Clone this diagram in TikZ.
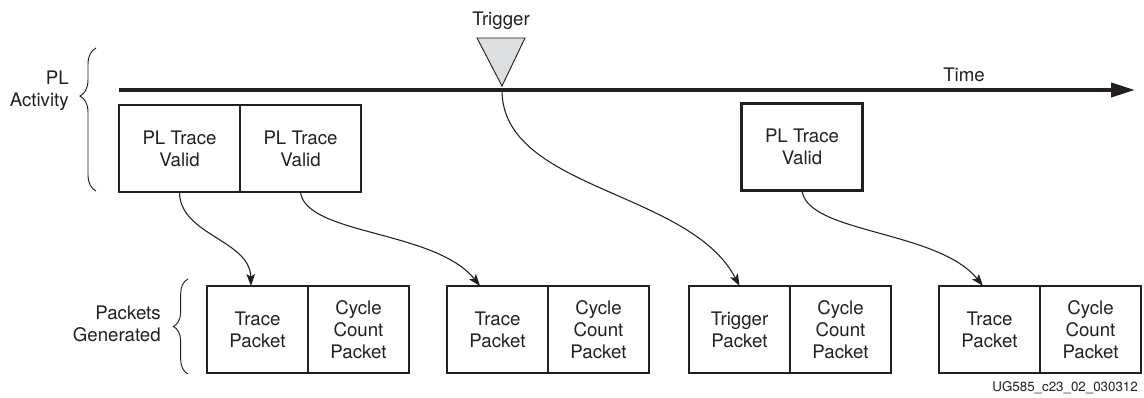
\documentclass[tikz,border=0pt]{standalone}
\usepackage{fontspec}
\setmainfont{TeX Gyre Heros}
\usetikzlibrary{arrows.meta,positioning,decorations.pathreplacing}
\definecolor{ink}{RGB}{35,31,32}
\definecolor{trigfill}{RGB}{221,222,223}

\tikzset{
    plbox/.style={draw=ink, line width=1.6pt, outer sep=0pt, inner sep=0pt,
        minimum width=90.75pt, minimum height=65.25pt, align=center},
    pkbox/.style={plbox, minimum width=75.75pt},
    flow/.style={draw=ink, line width=0.8pt, -{Stealth[length=9pt,width=6.5pt,inset=2pt]}},
    lbl/.style={inner sep=0pt, align=right, anchor=east},
    bracestyle/.style={draw=ink, line width=0.7pt, decorate},
}

\begin{document}
\begin{tikzpicture}[x=0.75pt, y=-0.75pt, font=\fontsize{14}{16.5}\selectfont, text=ink]
    \useasboundingbox (0,0) rectangle (1144,398);

    % time axis
    \coordinate (t0) at (119,90);
    \coordinate (tend) at (1135,90);
    \draw[ink, line width=3pt, -{Triangle[length=18pt,width=10.5pt]}] (t0) -- (tend);
    \node[inner sep=0pt] (timelbl) at (964,75) {Time};

    % trigger marker
    \coordinate (trg) at (502,90);
    \draw[ink, line width=0.7pt, fill=trigfill] (477,38) -- (525,38) -- (502,86) -- cycle;
    \node[inner sep=0pt] (triglbl) at (501,21) {Trigger};

    % PL activity
    \node[lbl] (actlbl) at (69,91) {PL\\Activity};
    \draw[bracestyle, decoration={brace, amplitude=12pt, aspect=0.664}] (96,191) -- (96,48);
    \node[plbox] (v1) at (179.5,148.5) {PL Trace\\Valid};
    \node[plbox, right=0pt of v1] (v2) {PL Trace\\Valid};
    \node[plbox] (v3) at (802,147) {PL Trace\\Valid};

    % packets generated
    \node[lbl] (pktlbl) at (161,324) {Packets\\Generated};
    \draw[bracestyle, decoration={brace, amplitude=11pt}] (188,374) -- (188,279);
    \node[pkbox] (t1) at (257.5,329.5) {Trace\\Packet};
    \node[pkbox, right=0pt of t1] (c1) {Cycle\\Count\\Packet};
    \node[pkbox] (t2) at (497.5,329.5) {Trace\\Packet};
    \node[pkbox, right=0pt of t2] (c2) {Cycle\\Count\\Packet};
    \node[pkbox] (g3) at (739.5,329.5) {Trigger\\Packet};
    \node[pkbox, right=0pt of g3] (c3) {Cycle\\Count\\Packet};
    \node[pkbox] (t4) at (989.5,329.5) {Trace\\Packet};
    \node[pkbox, right=0pt of t4] (c4) {Cycle\\Count\\Packet};

    % connectors
    \draw[flow] (v1.south) .. controls +(0,43) and +(-1,-46) .. ([xshift=-4.9pt]t1.north);
    \draw[flow] (v2.south) .. controls +(5,43) and +(-45,-56) .. ([xshift=-13.1pt]t2.north);
    \draw[flow] (trg) .. controls +(0,100) and +(-50,-96) .. (g3.north);
    \draw[flow] (v3.south) .. controls +(5,43) and +(-45,-56) .. ([xshift=-4.9pt]t4.north);

    \node[inner sep=0pt, anchor=east, font=\fontsize{10}{12}\selectfont] (figid) at (1138,388) {UG585\_c23\_02\_030312};
\end{tikzpicture}
\end{document}
